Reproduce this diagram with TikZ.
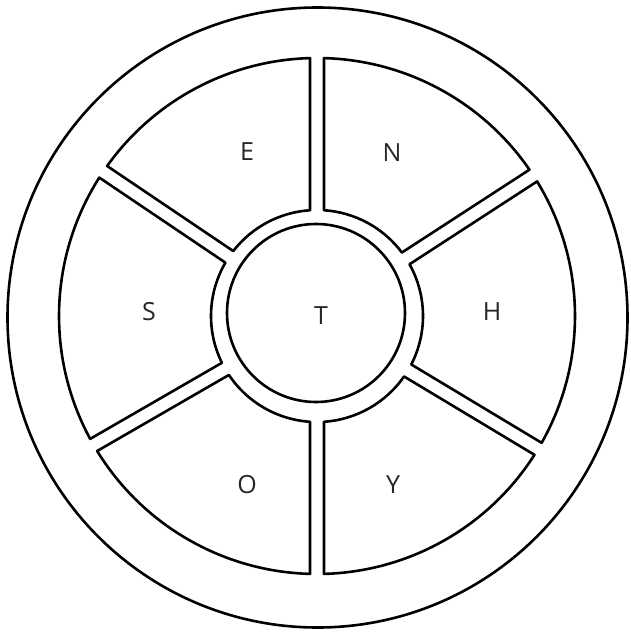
\documentclass[tikz,border=0pt]{standalone}
\usepackage{fontspec}
\setmainfont{Open Sans}
\begin{document}
\begin{tikzpicture}[x=1pt,y=1pt,
  outline/.style={draw, line width=2.6pt, line join=round},
  lab/.style={font=\fontsize{25}{30}\selectfont, inner sep=0pt, text=black!85}]
\useasboundingbox (0,-637) rectangle (630,0);
\coordinate (C) at (317,-316);
% outer rim
\draw[outline] (317.5,-317.5) circle[radius=310];
% hub
\draw[outline] (316,-313) circle[radius=89];
% six segments
\foreach \a/\b in {33/90, 90/146, 146/210, 210/270, 270/329, -31/33} {
  \pgfmathsetmacro\ai{\a+asin(7/106)}
  \pgfmathsetmacro\ao{\a+asin(7/258)}
  \pgfmathsetmacro\bi{\b-asin(7/106)}
  \pgfmathsetmacro\bo{\b-asin(7/258)}
  \draw[outline] ([shift={(\ai:106)}]C) -- ([shift={(\ao:258)}]C)
     arc[start angle=\ao, end angle=\bo, radius=258]
     -- ([shift={(\bi:106)}]C)
     arc[start angle=\bi, end angle=\ai, radius=106] -- cycle;
}
\node[lab] (E) at (247,-152) {E};
\node[lab] (N) at (392,-153) {N};
\node[lab] (S) at (149,-312) {S};
\node[lab] (T) at (321,-316) {T};
\node[lab] (H) at (492,-312) {H};
\node[lab] (O) at (247,-485) {O};
\node[lab] (Y) at (393,-485) {Y};
\end{tikzpicture}
\end{document}
